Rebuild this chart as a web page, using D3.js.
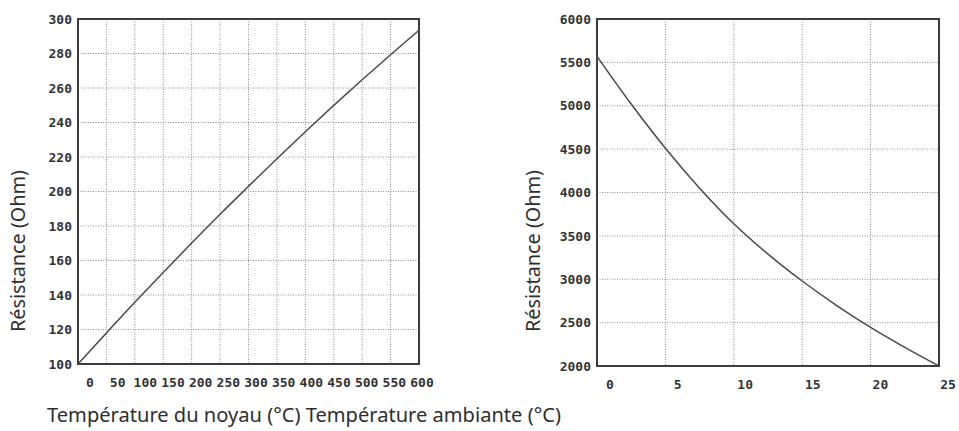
<!DOCTYPE html>
<html lang="fr">
<head>
    <meta charset="UTF-8">
    <title>Résistance des capteurs</title>
    <script src="https://d3js.org/d3.v7.min.js"></script>
    <style>
        body { margin: 0; background: #fff; }
        .tick-label { font-family: "DejaVu Sans Mono", monospace; font-weight: bold; font-size: 13px; fill: #333; }
        .axis-title { font-family: "Noto Sans", "Open Sans", sans-serif; fill: #2e2e2e; }
    </style>
</head>
<body>
    <svg id="chart" width="959" height="431"></svg>
    <script>
        // Sonde du noyau : résistance en fonction de la température (°C)
        const coreTemps = [0, 50, 100, 150, 200, 250, 300, 350, 400, 450, 500, 550, 600];
        const coreResist = [100, 118, 135.8, 153.1, 170.1, 186.8, 203, 219, 234.6, 249.9, 264.8, 279.3, 293.5];
        const coreYTicks = [100, 120, 140, 160, 180, 200, 220, 240, 260, 280, 300];

        // Sonde ambiante (CTN)
        const ambTemps = [0, 2.5, 5, 7.5, 10, 12.5, 15, 17.5, 20, 22.5, 25];
        const ambResist = [5570, 5020, 4510, 4050, 3640, 3290, 2980, 2700, 2445, 2215, 2000];
        const ambXTicks = [0, 5, 10, 15, 20, 25];
        const ambYTicks = [2000, 2500, 3000, 3500, 4000, 4500, 5000, 5500, 6000];

        const yTitle = 'Résistance (Ohm)';
        const xTitle = 'Température du noyau (°C) Température ambiante (°C)';

        const svg = d3.select('#chart');

        function drawPanel(opts) {
            const x = d3.scaleLinear().domain(opts.xDomain).range([opts.left, opts.right]);
            const y = d3.scaleLinear().domain(opts.yDomain).range([opts.bottom, opts.top]);
            // tick labels sit slightly offset from the grid in the original print
            const xLab = d3.scaleLinear().domain(opts.xDomain).range(opts.labelRange);
            const g = svg.append('g');

            g.selectAll('.vgrid')
                .data(opts.xTicks.slice(1, -1))
                .enter().append('line')
                .attr('x1', d => x(d)).attr('x2', d => x(d))
                .attr('y1', opts.top).attr('y2', opts.bottom)
                .attr('stroke', '#8c8c8c')
                .attr('stroke-width', 1)
                .attr('stroke-dasharray', '1 1.5');

            g.selectAll('.hgrid')
                .data(opts.yTicks.slice(1, -1))
                .enter().append('line')
                .attr('x1', opts.left).attr('x2', opts.right)
                .attr('y1', d => y(d)).attr('y2', d => y(d))
                .attr('stroke', '#8c8c8c')
                .attr('stroke-width', 1)
                .attr('stroke-dasharray', '1 1.5');

            g.append('rect')
                .attr('x', opts.left).attr('y', opts.top)
                .attr('width', opts.right - opts.left)
                .attr('height', opts.bottom - opts.top)
                .attr('fill', 'none')
                .attr('stroke', '#3c3c3c')
                .attr('stroke-width', 2);

            const line = d3.line()
                .x((d, i) => x(opts.xs[i]))
                .y(d => y(d))
                .curve(d3.curveMonotoneX);

            g.append('path')
                .datum(opts.ys)
                .attr('d', line)
                .attr('fill', 'none')
                .attr('stroke', '#4a4a4a')
                .attr('stroke-width', 1.5);

            g.selectAll('.ylab')
                .data(opts.yTicks)
                .enter().append('text')
                .attr('class', 'tick-label')
                .attr('x', opts.left - 6)
                .attr('y', d => y(d))
                .attr('dy', '0.36em')
                .attr('text-anchor', 'end')
                .text(d => d);

            g.selectAll('.xlab')
                .data(opts.xTicks)
                .enter().append('text')
                .attr('class', 'tick-label')
                .attr('x', d => xLab(d))
                .attr('y', opts.bottom + 23)
                .attr('text-anchor', 'middle')
                .text(d => d);

            g.append('text')
                .attr('class', 'axis-title')
                .attr('transform', `translate(${opts.titleX},${opts.titleY}) rotate(-90)`)
                .attr('text-anchor', 'middle')
                .attr('textLength', 162)
                .attr('lengthAdjust', 'spacingAndGlyphs')
                .style('font-size', '19px')
                .text(yTitle);
        }

        drawPanel({
            xs: coreTemps, ys: coreResist,
            xDomain: [0, 600], yDomain: [100, 300],
            xTicks: coreTemps, yTicks: coreYTicks,
            left: 78, right: 419, top: 19, bottom: 364,
            labelRange: [90, 422],
            titleX: 25, titleY: 251
        });

        drawPanel({
            xs: ambTemps, ys: ambResist,
            xDomain: [0, 25], yDomain: [2000, 6000],
            xTicks: ambXTicks, yTicks: ambYTicks,
            left: 597, right: 939, top: 19, bottom: 366,
            labelRange: [610, 948],
            titleX: 540, titleY: 251
        });

        svg.append('text')
            .attr('class', 'axis-title')
            .attr('x', 47)
            .attr('y', 422)
            .attr('textLength', 514)
            .attr('lengthAdjust', 'spacingAndGlyphs')
            .style('font-size', '19px')
            .text(xTitle);
    </script>
</body>
</html>
